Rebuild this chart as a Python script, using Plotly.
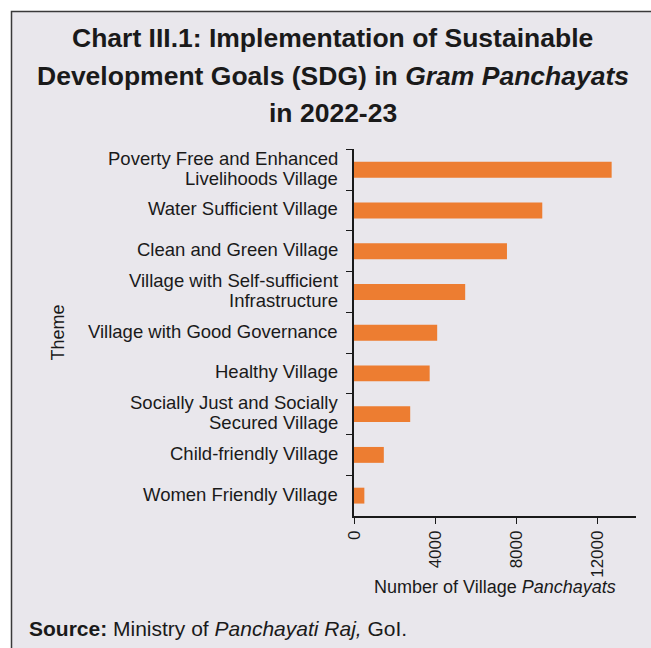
import plotly.graph_objects as go

# Themes (top to bottom) and number of village panchayats implementing each
themes = [
    "Poverty Free and Enhanced<br>Livelihoods Village",
    "Water Sufficient Village",
    "Clean and Green Village",
    "Village with Self-sufficient<br>Infrastructure",
    "Village with Good Governance",
    "Healthy Village",
    "Socially Just and Socially<br>Secured Village",
    "Child-friendly Village",
    "Women Friendly Village",
]
panchayats = [12700, 9280, 7540, 5480, 4100, 3730, 2770, 1470, 510]
x_ticks = [0, 4000, 8000, 12000]

W, H = 651, 648
L, R, T, B = 354, 15, 149, 132
PW, PH = W - L - R, H - T - B

BG = "#e9e7ec"
BAR = "#ed7d31"
INK = "#1a1a1a"
SANS = "Liberation Sans, Arial, sans-serif"
NARROW = "Liberation Sans Narrow, Arial Narrow, Liberation Sans, Arial, sans-serif"


def px_x(px):
    return (px - L) / PW


def px_y(py):
    return 1 - (py - T) / PH


fig = go.Figure(
    go.Bar(
        x=panchayats,
        y=themes,
        orientation="h",
        marker=dict(color=BAR, line=dict(width=0)),
        hoverinfo="x+y",
    )
)

annotations = []

# Category labels, one annotation per text line for tight line spacing
line_gap = 19.5
for name in themes:
    parts = name.split("<br>")
    n = len(parts)
    for i, part in enumerate(parts):
        annotations.append(dict(
            x=0, xref="paper", y=name, yref="y",
            xanchor="right", yanchor="middle", xshift=-14,
            yshift=((n - 1) / 2 - i) * line_gap + 1.5,
            text=part, showarrow=False, align="right",
            font=dict(family=SANS, size=18.5, color=INK),
        ))

# Title lines
title_lines = [
    ("<b>Chart III.1: Implementation of Sustainable</b>", 38),
    ("<b>Development Goals (SDG) in <i>Gram Panchayats</i></b>", 76),
    ("<b>in 2022-23</b>", 113),
]
for txt, yc in title_lines:
    annotations.append(dict(
        x=px_x(332.5), xref="paper", y=px_y(yc), yref="paper",
        xanchor="center", yanchor="middle", text=txt, showarrow=False,
        font=dict(family=NARROW, size=26.5, color=INK),
    ))

# Axis titles
annotations.append(dict(
    x=px_x(57), xref="paper", y=0.5, yref="paper",
    xanchor="center", yanchor="middle", textangle=-90,
    text="Theme", showarrow=False,
    font=dict(family=SANS, size=18, color=INK),
))
annotations.append(dict(
    x=px_x(495), xref="paper", y=px_y(587), yref="paper",
    xanchor="center", yanchor="middle",
    text="Number of Village <i>Panchayats</i>", showarrow=False,
    font=dict(family=SANS, size=18, color=INK),
))

# Source note
annotations.append(dict(
    x=px_x(27), xref="paper", y=px_y(628), yref="paper",
    xanchor="left", yanchor="middle",
    text="<b>Source:</b> Ministry of <i>Panchayati Raj,</i> GoI.", showarrow=False,
    font=dict(family=NARROW, size=21, color=INK),
))

# Framed panel behind the chart
shapes = [dict(
    type="rect", xref="paper", yref="paper", layer="below",
    x0=px_x(11.5), x1=px_x(670), y0=px_y(670), y1=px_y(11.5),
    fillcolor=BG, line=dict(color="#3a3a3a", width=1.5),
)]

fig.update_layout(
    width=W, height=H,
    margin=dict(l=L, r=R, t=T, b=B, autoexpand=False),
    paper_bgcolor="white",
    plot_bgcolor="rgba(0,0,0,0)",
    bargap=0.61,
    showlegend=False,
    annotations=annotations,
    shapes=shapes,
    font=dict(family=SANS, color=INK),
)

fig.update_xaxes(
    range=[0, 13900], tickvals=x_ticks, ticktext=[str(v) for v in x_ticks],
    tickangle=-90, ticks="outside", ticklen=6, tickwidth=1.2, tickcolor=INK,
    showline=True, linecolor=INK, linewidth=1.5, showgrid=False, zeroline=False,
    tickfont=dict(family=SANS, size=17, color=INK),
)
fig.update_yaxes(
    categoryorder="array", categoryarray=themes, autorange="reversed",
    tickson="boundaries", ticks="outside", ticklen=6, tickwidth=1.2, tickcolor=INK,
    showline=True, linecolor=INK, linewidth=1.5, showgrid=False,
    showticklabels=False,
)

fig.write_html("out.html")
